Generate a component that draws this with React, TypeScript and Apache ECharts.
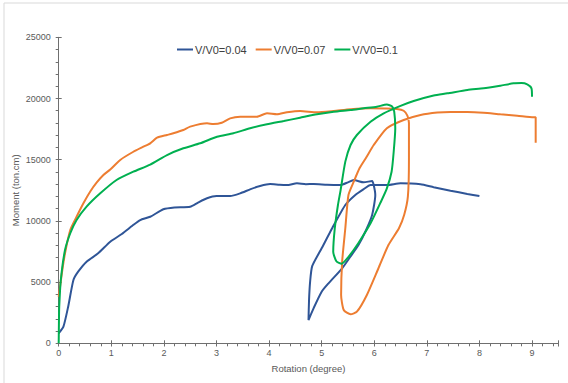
import React, { useEffect, useRef } from "react";
import * as echarts from "echarts";

const seriesNames = ["V/V0=0.04", "V/V0=0.07", "V/V0=0.1"];

const xBlue = [0, 0.09, 0.18, 0.28, 0.37, 0.53, 0.75, 0.98, 1.2, 1.4, 1.55, 1.74, 1.99, 2.2, 2.5, 2.65, 2.82, 3.0, 3.26, 3.45, 3.65, 3.83, 4.02, 4.2, 4.34, 4.53, 4.7, 4.85, 5.1, 5.36, 5.5, 5.61, 5.8, 5.96, 5.99, 6.02, 5.96, 5.85, 5.7, 5.55, 5.39, 5.13, 5.0, 4.85, 4.75, 4.76, 4.78, 4.82, 5.0, 5.2, 5.45, 5.64, 5.8, 5.93, 6.24, 6.5, 6.88, 7.13, 7.45, 7.77, 8.0];
const yBlue = [820, 1360, 2990, 5170, 5850, 6670, 7350, 8300, 8930, 9600, 10070, 10340, 10950, 11100, 11160, 11500, 11850, 12030, 12030, 12250, 12600, 12850, 13010, 12950, 12930, 13070, 13000, 13010, 12950, 12930, 13150, 13340, 13150, 13260, 12930, 12120, 10480, 9300, 8030, 7100, 6130, 4900, 4220, 2900, 1900, 3500, 5000, 6300, 7760, 9400, 11300, 12120, 12600, 12930, 12930, 13070, 12990, 12750, 12470, 12200, 12030];

const xOrange = [0, 0.06, 0.12, 0.22, 0.34, 0.47, 0.6, 0.72, 0.85, 0.98, 1.17, 1.42, 1.61, 1.74, 1.87, 2.06, 2.18, 2.37, 2.5, 2.82, 2.94, 3.1, 3.26, 3.45, 3.64, 3.77, 3.96, 4.15, 4.34, 4.59, 4.91, 5.23, 5.55, 5.93, 6.2, 6.43, 6.56, 6.63, 6.66, 6.66, 6.64, 6.57, 6.47, 6.27, 6.08, 5.86, 5.67, 5.55, 5.42, 5.37, 5.39, 5.45, 5.51, 5.61, 5.72, 5.85, 5.99, 6.24, 6.56, 6.88, 7.2, 7.45, 7.77, 8.08, 8.4, 8.72, 9.03, 9.07, 9.07];
const yOrange = [3800, 5720, 7350, 9260, 10340, 11440, 12400, 13120, 13750, 14200, 14980, 15650, 16060, 16340, 16800, 17020, 17160, 17430, 17700, 17970, 17920, 18020, 18380, 18510, 18510, 18510, 18790, 18710, 18870, 18980, 18870, 18980, 19120, 19200, 19180, 19140, 19000, 18600, 18000, 15000, 12000, 10500, 9400, 8030, 6130, 3950, 2580, 2370, 2720, 3950, 6670, 9400, 12120, 13200, 14300, 15200, 16200, 17570, 18240, 18650, 18850, 18900, 18900, 18840, 18710, 18600, 18460, 18460, 16390];

const xGreen = [0, 0.005, 0.01, 0.04, 0.12, 0.22, 0.34, 0.53, 0.79, 1.1, 1.42, 1.74, 2.06, 2.37, 2.69, 3.01, 3.32, 3.64, 3.96, 4.28, 4.59, 4.91, 5.23, 5.55, 5.8, 6.05, 6.24, 6.34, 6.38, 6.4, 6.37, 6.33, 6.24, 6.12, 5.93, 5.7, 5.5, 5.38, 5.28, 5.22, 5.25, 5.31, 5.36, 5.45, 5.55, 5.67, 5.93, 6.18, 6.5, 6.75, 7.13, 7.39, 7.77, 8.08, 8.4, 8.65, 8.8, 8.91, 8.99, 9.0];
const yGreen = [0, 1900, 2990, 5170, 7620, 8990, 10070, 11160, 12250, 13340, 14020, 14600, 15380, 15930, 16340, 16880, 17160, 17570, 17890, 18160, 18430, 18710, 18920, 19060, 19200, 19330, 19500, 19350, 18920, 17570, 15650, 14020, 12660, 11500, 9800, 8200, 7000, 6500, 6700, 7480, 9400, 11300, 12500, 14840, 16200, 17020, 18100, 18790, 19400, 19800, 20250, 20420, 20700, 20830, 21050, 21240, 21260, 21150, 20830, 20150];

const colors = ["#2F5597", "#ED7D31", "#00B050"];

const zip = (xs: number[], ys: number[]) => xs.map((x, i) => [x, ys[i]]);

export default function App() {
  const ref = useRef<HTMLDivElement>(null);
  useEffect(() => {
    if (!ref.current) return;
    const chart = echarts.init(ref.current, null, { renderer: "svg" });
    const axisColor = "#6f6f6f";
    const labelColor = "#595959";
    const font = "Liberation Sans, Arial, sans-serif";
    const gridBox = { left: 58.7, top: 37.3, right: 9.7, bottom: 39.7, containLabel: false, outerBoundsMode: "none" };
    const xBase = { type: "value", min: 0, max: 9.5 };
    const yBase = { type: "value", min: 0, max: 25000 };
    const option: any = {
      animation: false,
      backgroundColor: "#ffffff",
      color: colors,
      graphic: [
        {
          type: "rect",
          shape: { x: 4, y: 3, width: 620, height: 420 },
          style: { fill: "none", stroke: "#d9d9d9", lineWidth: 1 },
          silent: true,
        },
      ],
      legend: {
        left: 177,
        top: 44,
        padding: 0,
        icon: "rect",
        itemWidth: 16,
        itemHeight: 2,
        itemGap: 9,
        data: seriesNames,
        textStyle: { fontSize: 11, color: "#404040", fontFamily: font, padding: [0, 0, 0, -3] },
      },
      grid: [{ ...gridBox }, { ...gridBox }, { ...gridBox }],
      xAxis: [
        {
          ...xBase,
          gridIndex: 0,
          interval: 1,
          name: "Rotation (degree)",
          nameLocation: "middle",
          nameGap: 20,
          nameMoveOverlap: false,
          nameTextStyle: { fontSize: 9.5, color: labelColor, fontFamily: font },
          axisLine: { show: true, lineStyle: { color: axisColor, width: 1 } },
          axisTick: { show: true, inside: false, length: 3, lineStyle: { color: axisColor } },
          axisLabel: {
            fontSize: 9,
            color: labelColor,
            fontFamily: font,
            margin: 5,
            formatter: (v: number) => (Math.abs(v - Math.round(v)) < 1e-6 ? String(Math.round(v)) : ""),
          },
          splitLine: { show: false },
        },
        {
          ...xBase,
          gridIndex: 1,
          interval: 0.2,
          axisLine: { show: false },
          axisTick: { show: true, inside: false, length: 3, lineStyle: { color: axisColor } },
          axisLabel: { show: false },
          splitLine: { show: false },
        },
        {
          ...xBase,
          gridIndex: 2,
          interval: 1,
          axisLine: { show: false },
          axisTick: { show: true, inside: true, length: 3, lineStyle: { color: axisColor } },
          axisLabel: { show: false },
          splitLine: { show: false },
        },
      ],
      yAxis: [
        {
          ...yBase,
          gridIndex: 0,
          interval: 5000,
          name: "Moment (ton.cm)",
          nameLocation: "middle",
          nameGap: 38,
          nameMoveOverlap: false,
          nameTextStyle: { fontSize: 9.5, color: labelColor, fontFamily: font },
          axisLine: { show: true, lineStyle: { color: axisColor, width: 1 } },
          axisTick: { show: true, inside: false, length: 3, lineStyle: { color: axisColor } },
          minorTick: { show: true, splitNumber: 5, length: 3, lineStyle: { color: axisColor } },
          axisLabel: {
            fontSize: 9,
            color: labelColor,
            fontFamily: font,
            margin: 8,
            formatter: (v: number) => String(v),
          },
          splitLine: { show: false },
          minorSplitLine: { show: false },
        },
        {
          ...yBase,
          gridIndex: 1,
          show: false,
        },
        {
          ...yBase,
          gridIndex: 2,
          interval: 5000,
          axisLine: { show: false },
          axisTick: { show: true, inside: true, length: 3, lineStyle: { color: axisColor } },
          axisLabel: { show: false },
          splitLine: { show: false },
        },
      ],
      series: [
        { name: seriesNames[0], data: zip(xBlue, yBlue) },
        { name: seriesNames[1], data: zip(xOrange, yOrange) },
        { name: seriesNames[2], data: zip(xGreen, yGreen) },
      ].map((s, i) => ({
        ...s,
        type: "line",
        xAxisIndex: 0,
        yAxisIndex: 0,
        symbol: "none",
        showSymbol: false,
        smooth: 0.2,
        lineStyle: { width: 2, color: colors[i] },
        itemStyle: { color: colors[i] },
      })),
    };
    chart.setOption(option);
    return () => chart.dispose();
  }, []);
  return (
    <div
      ref={ref}
      style={{ position: "absolute", left: 0, top: 0, width: 568, height: 383, background: "#fff" }}
    />
  );
}
